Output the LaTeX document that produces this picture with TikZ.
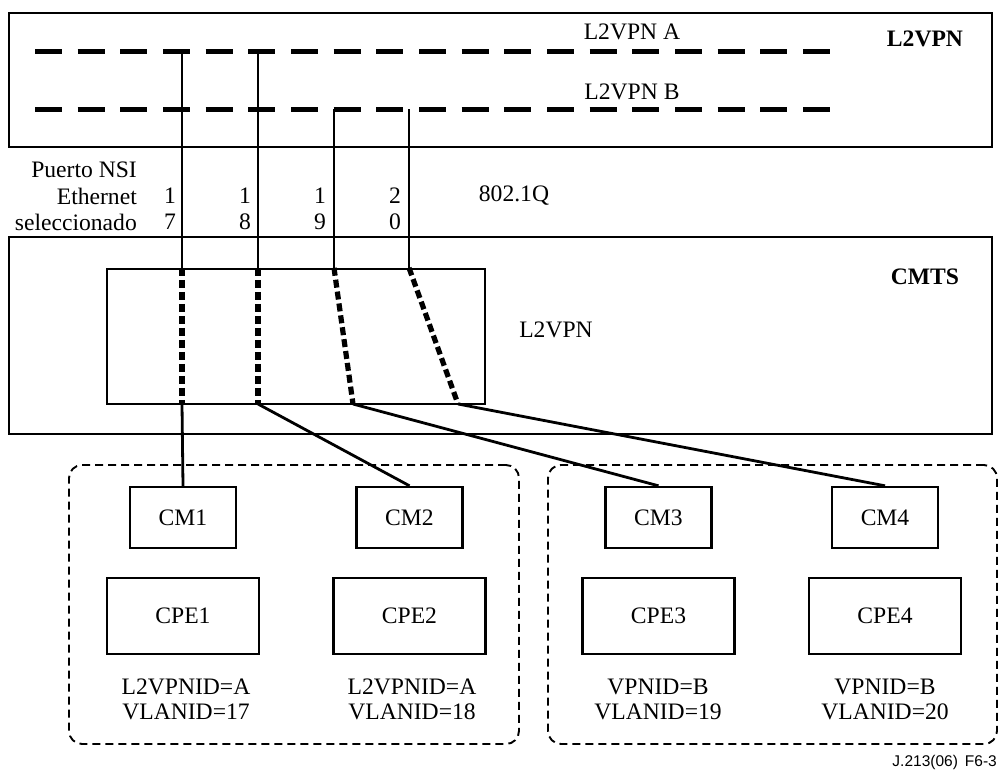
\documentclass[tikz,border=0pt]{standalone}
\usepackage{fontspec}
\setmainfont{Liberation Serif}
\newfontfamily\capfont{Liberation Sans}
\begin{document}
\begin{tikzpicture}[x=1pt,y=-1pt,
  every node/.style={font=\fontsize{23.6}{25}\selectfont, inner sep=0pt},
  boxline/.style={draw, line width=2.4pt},
  wire/.style={line width=1.1pt},
  tunnel/.style={line width=5pt, dash pattern=on 27pt off 15.67pt},
  cmtslink/.style={line width=5.2pt, dash pattern=on 8pt off 4pt},
  droplink/.style={line width=2.8pt},
  group/.style={draw, line width=1.9pt, dash pattern=on 8pt off 5pt, rounded corners=13pt},
  cmbox/.style={boxline, minimum width=106pt, minimum height=61pt},
  cpebox/.style={boxline, minimum width=152pt, minimum height=76pt},
  title/.style={font=\bfseries\fontsize{23.6}{25}\selectfont},
]
\useasboundingbox (0,0) rectangle (998,769);

% provider network and CMTS frames
\node[boxline, minimum width=983pt, minimum height=134pt] (l2vpnbox) at (500.5,80) {};
\node[boxline, minimum width=983pt, minimum height=197pt] (cmtsbox) at (500.5,335.5) {};
\node[boxline, minimum width=378pt, minimum height=135pt] (l2inner) at (296,336.5) {};

\node[title] (l2title) at (925,39) {L2VPN};
\node[title] (cmtstitle) at (925,277) {CMTS};
\node (l2inlabel) at (556,330) {L2VPN};

% the two L2VPN tunnels
\coordinate (aL) at (35,51);  \coordinate (aR) at (830,51);
\coordinate (bL) at (35,109); \coordinate (bR) at (830,109);
\draw[tunnel] (aL) -- (aR);
\draw[tunnel] (bL) -- (bR);
\node (vpnA) at (632,32) {L2VPN A};
\node (vpnB) at (632,92) {L2VPN B};

% taps from the tunnels down to the CMTS
\coordinate (t1) at (182,51);
\coordinate (t2) at (258,51);
\coordinate (t3) at (334,109);
\coordinate (t4) at (409,109);
\coordinate (p1) at (t1 |- l2inner.north);
\coordinate (p2) at (t2 |- l2inner.north);
\coordinate (p3) at (t3 |- l2inner.north);
\coordinate (p4) at (t4 |- l2inner.north);
\draw[wire] (t1) -- (p1);
\draw[wire] (t2) -- (p2);
\draw[wire] (t3) -- (p3);
\draw[wire] (t4) -- (p4);

% paths through the CMTS L2VPN function
\coordinate (q1) at (182,404);
\coordinate (q2) at (258,404);
\coordinate (q3) at (353,404);
\coordinate (q4) at (458,404);
\draw[cmtslink] (p1) -- (q1);
\draw[cmtslink] (p2) -- (q2);
\draw[cmtslink] (p3) -- (q3);
\draw[cmtslink] (p4) -- (q4);

% port labels
\node[anchor=east] (lbl1) at (137,170) {Puerto NSI};
\node[anchor=east] (lbl2) at (137,196) {Ethernet};
\node[anchor=east] (lbl3) at (137,222) {seleccionado};
\node (n1a) at (170,196) {1}; \node (n1b) at (170,222) {7};
\node (n2a) at (245,196) {1}; \node (n2b) at (245,222) {8};
\node (n3a) at (320,196) {1}; \node (n3b) at (320,222) {9};
\node (n4a) at (395,196) {2}; \node (n4b) at (395,222) {0};
\node (dot1q) at (514,196) {802.1Q};

% customer groups
\node[group, minimum width=450pt, minimum height=279pt] (grpA) at (294,604.5) {};
\node[group, minimum width=449pt, minimum height=279pt] (grpB) at (772.5,604.5) {};

\node[cmbox] (cm1) at (183,517.5) {CM1};
\node[cmbox] (cm2) at (409.5,517.5) {CM2};
\node[cmbox] (cm3) at (658.5,517.5) {CM3};
\node[cmbox] (cm4) at (885,517.5) {CM4};
\node[cpebox] (cpe1) at (183,616) {CPE1};
\node[cpebox] (cpe2) at (409.5,616) {CPE2};
\node[cpebox] (cpe3) at (658.5,616) {CPE3};
\node[cpebox] (cpe4) at (885,616) {CPE4};

\node[align=center] (id1) at (186,699.5) {L2VPNID=A\\VLANID=17};
\node[align=center] (id2) at (412,699.5) {L2VPNID=A\\VLANID=18};
\node[align=center] (id3) at (658,699.5) {VPNID=B\\VLANID=19};
\node[align=center] (id4) at (885,699.5) {VPNID=B\\VLANID=20};

% drops from the CMTS to the cable modems
\draw[droplink] (q1) -- (cm1.north);
\draw[droplink] (q2) -- (cm2.north);
\draw[droplink] (q3) -- (cm3.north);
\draw[droplink] (q4) -- (cm4.north);

\node[font=\capfont\fontsize{15.5}{17}\selectfont, anchor=east] (figid) at (997,762) {J.213(06)\hspace{0.45em}F6-3};
\end{tikzpicture}
\end{document}
